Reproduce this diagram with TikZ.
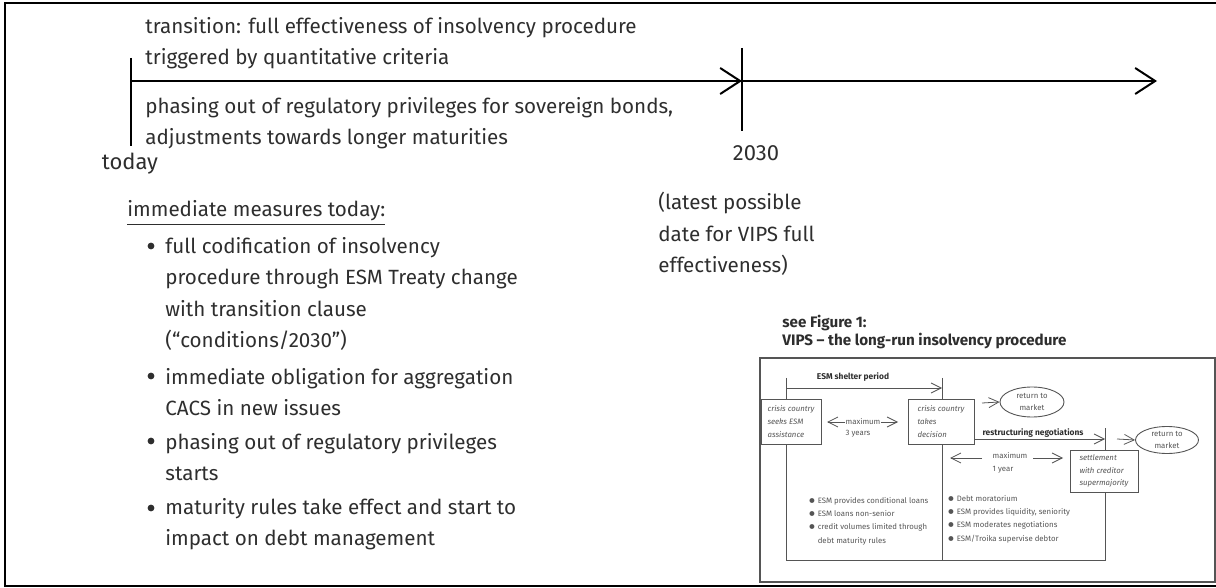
\documentclass[tikz,border=0pt]{standalone}
\usepackage{fontspec}
\setmainfont{Fira Sans}
\usepackage{xcolor}
\usetikzlibrary{arrows.meta, positioning, shapes.geometric}
\definecolor{inkgray}{HTML}{2E2E2E}
\definecolor{figgray}{HTML}{555555}

\begin{document}
\begin{tikzpicture}[
    x=0.5pt, y=-0.5pt,
    textnode/.style={anchor=west, inner sep=0pt, align=left, text=inkgray, font=\fontsize{10.3}{15.8}\selectfont},
    dateland/.style={inner sep=0pt, text=inkgray, font=\fontsize{11}{13}\selectfont},
    bigbarb/.style={-{Straight Barb[length=10pt, width=13pt, line width=1pt]}},
    figline/.style={draw=figgray, line width=0.4pt},
    figbarb/.style={-{Straight Barb[length=5pt, width=5pt]}},
    figbox/.style={rectangle, draw=figgray, fill=white, line width=0.45pt, inner sep=1.5pt, align=left, text=figgray, font=\fontsize{3.9}{6.3}\selectfont\itshape},
    figoval/.style={ellipse, draw=figgray, fill=white, line width=0.45pt, inner sep=0pt, align=center, text=figgray, font=\fontsize{3.9}{5.6}\selectfont},
    figtext/.style={inner sep=0pt, align=left, text=figgray, font=\fontsize{3.9}{6.6}\selectfont},
    fighead/.style={inner sep=0pt, text=inkgray, font=\fontsize{4.2}{5}\selectfont\bfseries}
]
\useasboundingbox (0,0) rectangle (1216,588);

% Frame
\draw[line width=1pt] (5,3) rectangle (1224,586);

% Timeline
\coordinate (t0) at (131,81);
\coordinate (t1) at (742,81);
\coordinate (t2) at (1157,81);
\draw[line width=1pt] (131,58) -- (131,146);
\draw[line width=1pt] (742,48) -- (742,131);
\draw[line width=1pt, bigbarb] (t0) -- (t1);
\draw[line width=1pt, bigbarb] (t1) -- (t2);

\node[dateland] (today) at (130,164) {today};
\node[dateland] (y2030) at (756,153) {2030};

\node[textnode] (above) at (145,43) {transition: full effectiveness of insolvency procedure\\triggered by quantitative criteria};
\node[textnode] (below) at (145,123) {phasing out of regulatory privileges for sovereign bonds,\\adjustments towards longer maturities};

\node[textnode] (latest) at (658,234) {(latest possible\\date for VIPS full\\effectiveness)};

% Immediate measures
\node[textnode] (measures) at (127,213) {\underline{immediate measures today:}};
\node[textnode] (m1) at (165,294) {full codification of insolvency\\procedure through ESM Treaty change\\with transition clause\\(“conditions/2030”)};
\node[textnode] (m2) at (165,392) {immediate obligation for aggregation\\CACS in new issues};
\node[textnode] (m3) at (165,457) {phasing out of regulatory privileges\\starts};
\node[textnode] (m4) at (165,524) {maturity rules take effect and start to\\impact on debt management};
\foreach \y in {246,376,441,508} {
    \fill[inkgray] (151,\y) circle[radius=1.7pt];
}

% Inset: VIPS figure
\node[textnode, font=\fontsize{7.6}{8.6}\selectfont\bfseries] (seefig) at (782,332) {see Figure 1:\\VIPS -- the long-run insolvency procedure};
\draw[draw=figgray, line width=0.8pt] (760,358) rectangle (1215,582);

\draw[figline] (786,378) -- (786,560) -- (1105,560) -- (1105,428);
\draw[figline] (942,378) -- (942,560);
\draw[figline, figbarb] (786,388) -- (942,388);
\node[fighead] (shelter) at (853,377) {ESM shelter period};

\node[figbox, minimum width=30pt, minimum height=22.5pt] (seeks) at (791,421.5) {crisis country\\seeks ESM\\assistance};
\node[figbox, minimum width=33pt, minimum height=22.5pt] (takes) at (941,421.5) {crisis country\\takes\\decision};
\node[figbox, minimum width=34pt, minimum height=21pt] (settle) at (1104,471) {settlement\\with creditor\\supermajority};

\node[figoval, minimum width=32pt, minimum height=15pt] (market1) at (1032,402) {return to\\market};
\node[figoval, minimum width=31.5pt, minimum height=13.5pt] (market2) at (1167,440) {return to\\market};

\coordinate (m1a) at (982,403);
\coordinate (m2a) at (1117,439);
\draw[figline, figbarb] (m1a) -- (market1.west);
\draw[figline, figbarb] (m2a) -- (market2.west);

\coordinate (rs) at (takes.east |- 0,439);
\coordinate (re) at (1105,439);
\draw[figline, figbarb] (rs) -- (re);
\node[fighead] (restr) at (1033,433) {restructuring negotiations};

% maximum 3 years
\node[figtext] (max3) at (863,422) {maximum};
\node[figtext] (yr3) at (858,434) {3 years};
\coordinate (l3) at (827,422);
\coordinate (r3) at (898,422);
\draw[figline, figbarb] (max3.west) -- (l3);
\draw[figline, figbarb] (max3.east) -- (r3);

% maximum 1 year
\node[figtext] (max1) at (1010,456) {maximum};
\node[figtext] (yr1) at (1003,470) {1 year};
\coordinate (l1a) at (982,458);
\coordinate (l1) at (950,458);
\coordinate (r1a) at (1033,458);
\coordinate (r1) at (1063,458);
\draw[figline, figbarb] (l1a) -- (l1);
\draw[figline, figbarb] (r1a) -- (r1);

% bullet texts
\node[figtext, anchor=north west] (esmleft) at (808,497) {$\scriptscriptstyle\bullet$ ESM provides conditional loans\\$\scriptscriptstyle\bullet$ ESM loans non-senior\\$\scriptscriptstyle\bullet$ credit volumes limited through\\\phantom{$\scriptscriptstyle\bullet$} debt maturity rules};
\node[figtext, anchor=north west] (esmright) at (947,495) {$\scriptscriptstyle\bullet$ Debt moratorium\\$\scriptscriptstyle\bullet$ ESM provides liquidity, seniority\\$\scriptscriptstyle\bullet$ ESM moderates negotiations\\$\scriptscriptstyle\bullet$ ESM/Troika supervise debtor};

\end{tikzpicture}
\end{document}
